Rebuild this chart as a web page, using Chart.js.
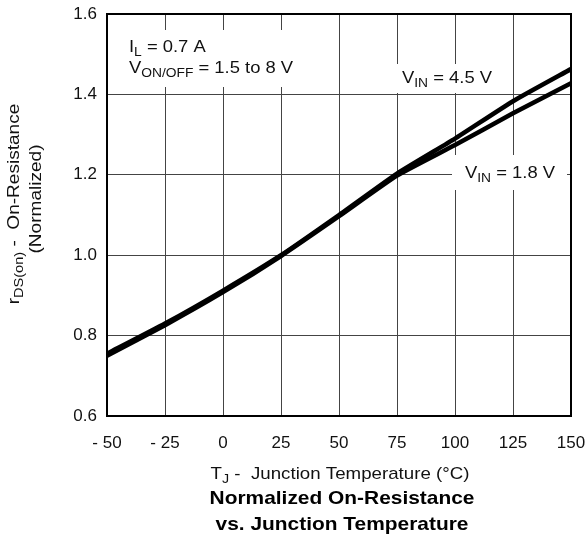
<!DOCTYPE html>
<html>
<head>
<meta charset="utf-8">
<script src="https://cdn.jsdelivr.net/npm/chart.js@4/dist/chart.umd.min.js"></script>
<style>
  html, body { margin: 0; padding: 0; background: #fff; }
  canvas { display: block; }
</style>
</head>
<body>
<canvas id="chart" width="588" height="540"></canvas>
<script>
// junction temperature (°C)
const tempC = [-50, -25, 0, 25, 50, 75, 100, 125, 150];
// normalized rDS(on)
const vin45 = [0.755, 0.83, 0.912, 1.0, 1.1, 1.203, 1.29, 1.383, 1.463];
const vin18 = [0.75, 0.826, 0.908, 0.998, 1.097, 1.198, 1.274, 1.353, 1.428];

const xTicks = [-50, -25, 0, 25, 50, 75, 100, 125, 150];
const yTicks = [0.6, 0.8, 1.0, 1.2, 1.4, 1.6];

const FONT = 'Liberation Sans, Arial, Helvetica, sans-serif';

// text with subscripts, parts = [[text, isSub], ...], sx = horizontal stretch
function richText(ctx, parts, x, y, size, align, sx, weight) {
  sx = sx || 1;
  weight = weight || '';
  const subSize = Math.round(size * 0.78);
  let total = 0;
  parts.forEach(([t, sub]) => {
    ctx.font = weight + (sub ? subSize : size) + 'px ' + FONT;
    total += ctx.measureText(t).width;
  });
  ctx.save();
  ctx.translate(x, y);
  ctx.scale(sx, 1);
  let cx = align === 'center' ? -total / 2 : 0;
  ctx.textAlign = 'left';
  ctx.textBaseline = 'alphabetic';
  parts.forEach(([t, sub]) => {
    ctx.font = weight + (sub ? subSize : size) + 'px ' + FONT;
    ctx.fillText(t, cx, sub ? 4 : 0);
    cx += ctx.measureText(t).width;
  });
  ctx.restore();
}

const labelsPlugin = {
  id: 'labels',
  beforeDatasetsDraw(chart) {
    const ctx = chart.ctx;
    ctx.save();
    // white boxes behind the notes
    ctx.fillStyle = '#fff';
    ctx.fillRect(124, 30, 184, 57);
    ctx.fillRect(390, 64, 110, 29);
    ctx.fillRect(452, 155, 115, 35);
    ctx.fillStyle = '#111';
    richText(ctx, [['I', false], ['L', true], [' = 0.7 A', false]], 129, 52, 16, 'left', 1.15);
    richText(ctx, [['V', false], ['ON/OFF', true], [' = 1.5 to 8 V', false]], 129, 73, 16, 'left', 1.15);
    richText(ctx, [['V', false], ['IN', true], [' = 4.5 V', false]], 402, 83, 16, 'left', 1.15);
    richText(ctx, [['V', false], ['IN', true], [' = 1.8 V', false]], 465, 178, 16, 'left', 1.15);
    ctx.restore();
  },
  afterDatasetsDraw(chart) {
    const { ctx, chartArea: a } = chart;
    ctx.save();
    ctx.strokeStyle = '#000';
    ctx.lineWidth = 2;
    ctx.strokeRect(a.left, a.top, a.right - a.left, a.bottom - a.top);
    ctx.restore();
  },
  afterDraw(chart) {
    const ctx = chart.ctx;
    ctx.save();
    ctx.fillStyle = '#111';
    // y axis title, rotated
    ctx.save();
    ctx.translate(19, 204);
    ctx.rotate(-Math.PI / 2);
    richText(ctx, [['r', false], ['DS(on)', true], [' -  On-Resistance', false]], 0, 0, 17, 'center', 1.12);
    ctx.restore();
    ctx.save();
    ctx.translate(41, 199);
    ctx.rotate(-Math.PI / 2);
    richText(ctx, [['(Normalized)', false]], 0, 0, 17, 'center', 1.12);
    ctx.restore();
    // x axis title
    richText(ctx, [['T', false], ['J', true], [' -  Junction Temperature (°C)', false]], 340, 479, 17, 'center', 1.1);
    // caption
    ctx.fillStyle = '#000';
    richText(ctx, [['Normalized On-Resistance', false]], 342, 504, 19, 'center', 1.1, 'bold ');
    richText(ctx, [['vs. Junction Temperature', false]], 342, 530, 19, 'center', 1.1, 'bold ');
    ctx.restore();
  }
};

const toPoints = (ys) => tempC.map((t, i) => ({ x: t, y: ys[i] }));

new Chart(document.getElementById('chart'), {
  type: 'line',
  data: {
    datasets: [
      {
        label: 'VIN = 1.8 V',
        data: toPoints(vin18),
        borderColor: '#000',
        borderWidth: 4.5,
        pointRadius: 0,
        tension: 0.15,
        fill: false,
      },
      {
        label: 'VIN = 4.5 V',
        data: toPoints(vin45),
        borderColor: '#000',
        borderWidth: 4.5,
        pointRadius: 0,
        tension: 0.15,
        fill: false,
      },
    ],
  },
  options: {
    responsive: false,
    animation: false,
    layout: { padding: { left: 0, right: 17, top: 14, bottom: 0 } },
    plugins: { legend: { display: false }, tooltip: { enabled: false } },
    scales: {
      x: {
        type: 'linear',
        min: -50,
        max: 150,
        afterBuildTicks: (s) => { s.ticks = xTicks.map((v) => ({ value: v })); },
        afterFit: (s) => { s.height = 124; s.paddingLeft = 0; s.paddingRight = 0; },
        grid: { color: '#444', lineWidth: 1, drawTicks: false },
        border: { display: false },
        ticks: {
          padding: 17,
          color: '#111',
          font: { family: FONT, size: 17 },
          callback: (v) => (v < 0 ? '- ' + Math.abs(v) : String(v)),
        },
      },
      y: {
        min: 0.6,
        max: 1.6,
        afterBuildTicks: (s) => { s.ticks = yTicks.map((v) => ({ value: v })); },
        afterFit: (s) => { s.width = 107; s.paddingTop = 0; s.paddingBottom = 0; },
        grid: { color: '#444', lineWidth: 1, drawTicks: false },
        border: { display: false },
        ticks: {
          padding: 10,
          color: '#111',
          font: { family: FONT, size: 17 },
          callback: (v) => v.toFixed(1),
        },
      },
    },
  },
  plugins: [labelsPlugin],
});
</script>
</body>
</html>
